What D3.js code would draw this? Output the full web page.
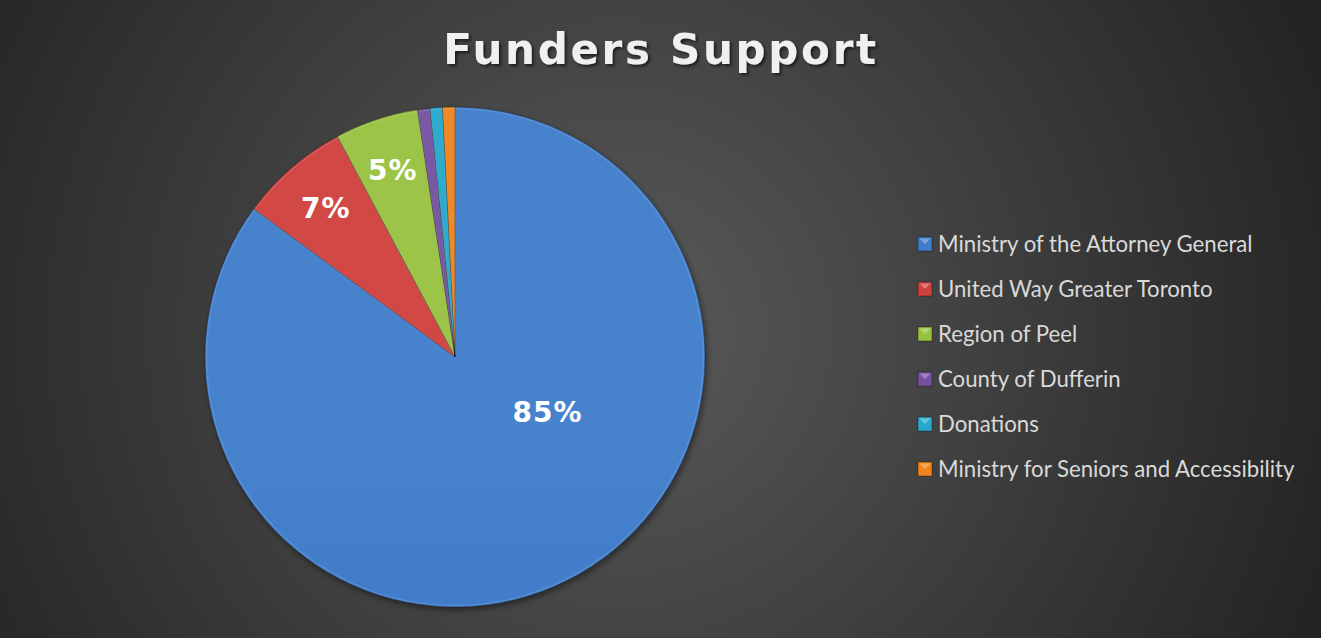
<!DOCTYPE html>
<html>
<head>
<meta charset="utf-8">
<script src="https://cdn.jsdelivr.net/npm/d3@7"></script>
<style>
  html, body { margin: 0; padding: 0; background: #2a2a2a; }
  svg { display: block; }
</style>
</head>
<body>
<div id="chart"></div>
<script>
var svgWidth = 1321;
var svgHeight = 638;

// chart data
var funders = ["Ministry of the Attorney General", "United Way Greater Toronto", "Region of Peel",
  "County of Dufferin", "Donations", "Ministry for Seniors and Accessibility"];
var shares = [85.1, 7.1, 5.4, 0.8, 0.8, 0.8];
var colors = ["#3f7dcb", "#cf403d", "#97c23f", "#7651a2", "#28a8cc", "#f0841a"];
var chartTitle = "Funders Support";

var cx = 455, cy = 357, radius = 250;

var svg = d3.select("#chart")
  .append("svg")
  .attr("width", svgWidth)
  .attr("height", svgHeight);

var defs = svg.append("defs");

// background radial gradient
var bg = defs.append("radialGradient")
  .attr("id", "bg")
  .attr("gradientUnits", "userSpaceOnUse")
  .attr("cx", 620).attr("cy", 330).attr("r", 760);
bg.append("stop").attr("offset", "0%").attr("stop-color", "#5a5a5a");
bg.append("stop").attr("offset", "100%").attr("stop-color", "#232323");

svg.append("rect")
  .attr("width", svgWidth)
  .attr("height", svgHeight)
  .attr("fill", "url(#bg)");

// shading on slices: slightly lighter on top, darker at the bottom
var shade = defs.append("linearGradient")
  .attr("id", "shade")
  .attr("gradientUnits", "userSpaceOnUse")
  .attr("x1", 0).attr("y1", cy - radius)
  .attr("x2", 0).attr("y2", cy + radius);
shade.append("stop").attr("offset", "0%").attr("stop-color", "#fff").attr("stop-opacity", 0.04);
shade.append("stop").attr("offset", "50%").attr("stop-color", "#000").attr("stop-opacity", 0.0);
shade.append("stop").attr("offset", "100%").attr("stop-color", "#000").attr("stop-opacity", 0.12);

var shadow = defs.append("filter").attr("id", "shadow")
  .attr("x", "-20%").attr("y", "-20%").attr("width", "140%").attr("height", "140%");
shadow.append("feDropShadow")
  .attr("dx", 2).attr("dy", 3).attr("stdDeviation", 3)
  .attr("flood-color", "#000").attr("flood-opacity", 0.45);

var textShadow = defs.append("filter").attr("id", "tshadow");
textShadow.append("feDropShadow")
  .attr("dx", 2).attr("dy", 2).attr("stdDeviation", 1.5)
  .attr("flood-color", "#000").attr("flood-opacity", 0.6);

// title
svg.append("text")
  .attr("x", 661)
  .attr("y", 64)
  .attr("text-anchor", "middle")
  .attr("font-family", "DejaVu Sans")
  .attr("font-weight", "bold")
  .attr("font-size", 42)
  .attr("letter-spacing", 2.7)
  .attr("fill", "#f0f0f0")
  .attr("filter", "url(#tshadow)")
  .text(chartTitle);

// pie
var pie = d3.pie().sort(null).startAngle(0).endAngle(2 * Math.PI);
var arcs = pie(shares);
var total = d3.sum(shares);

var arc = d3.arc().innerRadius(0).outerRadius(radius);
var labelArc = d3.arc().innerRadius(radius * 0.79).outerRadius(radius * 0.79);

var pieGroup = svg.append("g")
  .attr("transform", `translate(${cx}, ${cy})`);

pieGroup.append("g")
  .attr("filter", "url(#shadow)")
  .selectAll("path")
  .data(arcs)
  .enter()
  .append("path")
  .attr("d", arc)
  .attr("fill", (d, i) => colors[i]);

// bevel-ish overlay
pieGroup.append("g")
  .selectAll("path")
  .data(arcs)
  .enter()
  .append("path")
  .attr("d", d3.arc().innerRadius(0).outerRadius(radius - 1.5))
  .attr("fill", "url(#shade)")
  .attr("stroke", "rgba(255,255,255,0.12)")
  .attr("stroke-width", 1.5);

pieGroup.selectAll("path.edge")
  .data(arcs)
  .enter()
  .append("path")
  .attr("class", "edge")
  .attr("d", arc)
  .attr("fill", "none")
  .attr("stroke", "rgba(0,0,0,0.3)")
  .attr("stroke-width", 0.8);

// data labels (only slices big enough to show one)
var fmt = d3.format(".0%");
pieGroup.selectAll("text.pct")
  .data(arcs.filter(d => d.value / total >= 0.02))
  .enter()
  .append("text")
  .attr("class", "pct")
  .attr("transform", function(d) {
    var p;
    if (d.value / total > 0.5) {
      // best-fit placement for the big slice
      var a = 120.5 * Math.PI / 180;
      p = [Math.sin(a) * radius * 0.43, -Math.cos(a) * radius * 0.43];
    } else {
      p = labelArc.centroid(d);
    }
    return `translate(${p[0]}, ${p[1]})`;
  })
  .attr("text-anchor", "middle")
  .attr("dy", "0.36em")
  .attr("font-family", "DejaVu Sans")
  .attr("font-weight", "bold")
  .attr("font-size", 28)
  .attr("letter-spacing", 1)
  .attr("fill", "#ffffff")
  .text(d => fmt(d.value / total));

// legend
var legend = svg.append("g")
  .attr("transform", "translate(918, 244)");

var items = legend.selectAll("g")
  .data(funders)
  .enter()
  .append("g")
  .attr("transform", (d, i) => `translate(0, ${i * 45})`);

items.append("rect")
  .attr("x", 0)
  .attr("y", -7)
  .attr("width", 14)
  .attr("height", 14)
  .attr("fill", (d, i) => colors[i])
  .attr("stroke", "rgba(0,0,0,0.35)")
  .attr("stroke-width", 1);

items.append("path")
  .attr("d", "M1.5,-5.5 L12.5,-5.5 L7,0 Z")
  .attr("fill", "rgba(255,255,255,0.3)");

items.append("text")
  .attr("x", 20)
  .attr("dy", "0.35em")
  .attr("font-family", "Lato")
  .attr("font-size", 22.2)
  .attr("fill", "#d9d9d9")
  .text(d => d);
</script>
</body>
</html>
